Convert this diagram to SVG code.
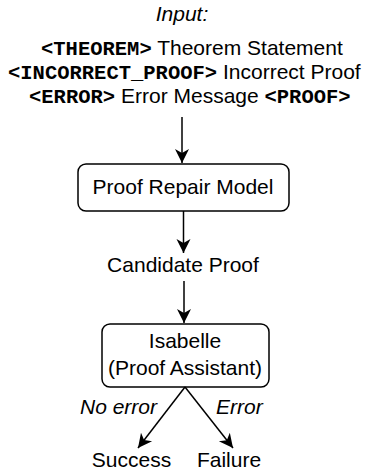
<svg xmlns="http://www.w3.org/2000/svg" width="365" height="471" viewBox="0 0 365 471">
<style>
.t{font-family:"Liberation Sans",Arial,sans-serif;font-size:21px;fill:#000}
.i{font-style:italic}
.m{font-family:"Liberation Mono","Courier New",monospace;font-weight:bold;font-size:20.5px}
.box{fill:#fff;stroke:#000;stroke-width:1.5}
.ln{fill:none;stroke:#000;stroke-width:1.5}
</style>
<defs>
<marker id="ah" markerUnits="userSpaceOnUse" markerWidth="16" markerHeight="16" refX="14" refY="8" orient="auto" viewBox="0 0 16 16">
<path d="M14,8 L0,1 L4,8 L0,15 Z" fill="#000"/>
</marker>
</defs>
<g id="input">
<text class="t i" x="182" y="21" text-anchor="middle">Input:</text>
<text class="t" x="41" y="55"><tspan class="m">&lt;THEOREM&gt;</tspan> Theorem Statement</text>
<text class="t" x="8" y="79"><tspan class="m">&lt;INCORRECT_PROOF&gt;</tspan> Incorrect Proof</text>
<text class="t" x="29" y="103"><tspan class="m">&lt;ERROR&gt;</tspan> Error Message <tspan class="m">&lt;PROOF&gt;</tspan></text>
</g>
<g id="model">
<rect class="box" x="78" y="164" width="211" height="47" rx="8"/>
<text class="t" x="183" y="194" text-anchor="middle">Proof Repair Model</text>
</g>
<g id="candidate">
<text class="t" x="183" y="272" text-anchor="middle">Candidate Proof</text>
</g>
<g id="isabelle">
<rect class="box" x="102" y="324" width="167" height="63" rx="8"/>
<text class="t" x="185" y="348" text-anchor="middle">Isabelle</text>
<text class="t" x="185" y="375" text-anchor="middle">(Proof Assistant)</text>
</g>
<g id="success"><text class="t" x="131.5" y="467" text-anchor="middle">Success</text></g>
<g id="failure"><text class="t" x="229" y="467" text-anchor="middle">Failure</text></g>
<g id="connectors">
<line class="ln" x1="182" y1="117" x2="182" y2="163" marker-end="url(#ah)"/>
<line class="ln" x1="183.5" y1="211" x2="183.5" y2="253" marker-end="url(#ah)"/>
<line class="ln" x1="184" y1="281" x2="184" y2="323" marker-end="url(#ah)"/>
<line class="ln" x1="185" y1="387" x2="138" y2="448" marker-end="url(#ah)"/>
<line class="ln" x1="185" y1="387" x2="233" y2="448" marker-end="url(#ah)"/>
<text class="t i" x="157" y="414" text-anchor="end">No error</text>
<text class="t i" x="216" y="414">Error</text>
</g>
</svg>
